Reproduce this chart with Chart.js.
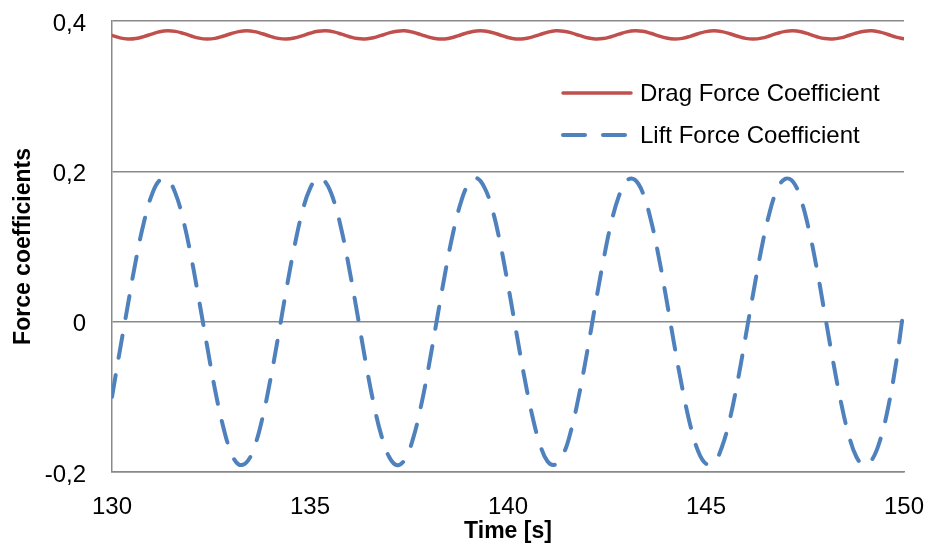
<!DOCTYPE html>
<html>
<head>
<meta charset="utf-8">
<script src="https://cdn.jsdelivr.net/npm/chart.js@4.4.1/dist/chart.umd.min.js"></script>
<style>
    html, body { margin: 0; padding: 0; background: #fff; }
    #wrap { width: 928px; height: 545px; position: relative; }
</style>
</head>
<body>
<div id="wrap"><canvas id="force-chart"></canvas></div>
<script>
// Time samples [s]
const times = [
    130.0, 130.2, 130.4, 130.6, 130.8, 131.0, 131.2, 131.4, 131.6, 131.8,
    132.0, 132.2, 132.4, 132.6, 132.8, 133.0, 133.2, 133.4, 133.6, 133.8,
    134.0, 134.2, 134.4, 134.6, 134.8, 135.0, 135.2, 135.4, 135.6, 135.8,
    136.0, 136.2, 136.4, 136.6, 136.8, 137.0, 137.2, 137.4, 137.6, 137.8,
    138.0, 138.2, 138.4, 138.6, 138.8, 139.0, 139.2, 139.4, 139.6, 139.8,
    140.0, 140.2, 140.4, 140.6, 140.8, 141.0, 141.2, 141.4, 141.6, 141.8,
    142.0, 142.2, 142.4, 142.6, 142.8, 143.0, 143.2, 143.4, 143.6, 143.8,
    144.0, 144.2, 144.4, 144.6, 144.8, 145.0, 145.2, 145.4, 145.6, 145.8,
    146.0, 146.2, 146.4, 146.6, 146.8, 147.0, 147.2, 147.4, 147.6, 147.8,
    148.0, 148.2, 148.4, 148.6, 148.8, 149.0, 149.2, 149.4, 149.6, 149.8,
    150.0
];

const dragCoef = [
    0.3807, 0.3776, 0.3761, 0.3767, 0.3792, 0.3826, 0.3856, 0.3870, 0.3862, 0.3836,
    0.3801, 0.3772, 0.3760, 0.3769, 0.3797, 0.3831, 0.3859, 0.3870, 0.3859, 0.3830,
    0.3796, 0.3769, 0.3760, 0.3773, 0.3802, 0.3837, 0.3863, 0.3870, 0.3855, 0.3825,
    0.3791, 0.3766, 0.3761, 0.3777, 0.3808, 0.3842, 0.3865, 0.3869, 0.3851, 0.3819,
    0.3786, 0.3764, 0.3762, 0.3781, 0.3814, 0.3847, 0.3867, 0.3867, 0.3847, 0.3814,
    0.3781, 0.3762, 0.3764, 0.3786, 0.3819, 0.3851, 0.3869, 0.3865, 0.3842, 0.3808,
    0.3777, 0.3761, 0.3766, 0.3791, 0.3825, 0.3855, 0.3870, 0.3863, 0.3837, 0.3802,
    0.3773, 0.3760, 0.3769, 0.3796, 0.3831, 0.3859, 0.3870, 0.3859, 0.3831, 0.3797,
    0.3769, 0.3760, 0.3772, 0.3801, 0.3836, 0.3862, 0.3870, 0.3856, 0.3826, 0.3791,
    0.3766, 0.3761, 0.3776, 0.3807, 0.3841, 0.3865, 0.3869, 0.3852, 0.3820, 0.3786,
    0.3764
];

const liftCoef = [
    -0.100, -0.038, 0.022, 0.081, 0.131, 0.168, 0.188, 0.189, 0.171, 0.135,
    0.086, 0.028, -0.032, -0.090, -0.138, -0.173, -0.190, -0.187, -0.166, -0.128,
    -0.077, -0.019, 0.042, 0.098, 0.145, 0.177, 0.191, 0.185, 0.161, 0.121,
    0.068, 0.009, -0.052, -0.107, -0.151, -0.180, -0.191, -0.183, -0.156, -0.113,
    -0.059, 0.001, 0.061, 0.115, 0.157, 0.183, 0.191, 0.179, 0.150, 0.105,
    0.049, -0.011, -0.070, -0.122, -0.162, -0.186, -0.190, -0.176, -0.143, -0.096,
    -0.040, 0.021, 0.079, 0.130, 0.167, 0.188, 0.189, 0.172, 0.137, 0.088,
    0.030, -0.031, -0.088, -0.137, -0.172, -0.189, -0.188, -0.167, -0.130, -0.079,
    -0.020, 0.040, 0.097, 0.144, 0.176, 0.190, 0.186, 0.162, 0.122, 0.070,
    0.010, -0.050, -0.105, -0.150, -0.180, -0.191, -0.183, -0.157, -0.114, -0.055,
    0.020
];

const xTicks = [130, 135, 140, 145, 150];
const yTicks = [-0.2, 0, 0.2, 0.4];

const FONT = "'Liberation Sans', Arial, sans-serif";
const GRID = '#898989';

// Legend drawn inside the plot area, like the Excel original
const insideLegend = {
    id: 'insideLegend',
    afterDraw(chart) {
        const ctx = chart.ctx;
        const area = chart.chartArea;
        const x0 = area.right - 341;
        chart.data.datasets.forEach(function(ds, i) {
            const y = area.top + 72 + i * 42;
            ctx.save();
            ctx.strokeStyle = ds.borderColor;
            ctx.lineWidth = ds.borderWidth;
            ctx.lineCap = ds.borderCapStyle || 'butt';
            ctx.setLineDash(ds.borderDash || []);
            ctx.beginPath();
            ctx.moveTo(x0, y);
            ctx.lineTo(x0 + 68, y);
            ctx.stroke();
            ctx.setLineDash([]);
            ctx.fillStyle = '#000';
            ctx.font = '24px ' + FONT;
            ctx.textBaseline = 'middle';
            ctx.textAlign = 'left';
            ctx.fillText(ds.label, x0 + 77, y + 1);
            ctx.restore();
        });
    }
};

function fmtComma(v) {
    if (Math.abs(v) < 1e-9) return '0';
    return v.toFixed(1).replace('.', ',');
}

// fixed axis boxes so the plot area lands where the original has it
function fixX(s) {
    s.height = 73;
    s.paddingLeft = 0;
    s.paddingRight = 0;
}
function fixY(s) {
    s.width = 112;
    s.paddingTop = 0;
    s.paddingBottom = 0;
}

const ctx = document.getElementById('force-chart').getContext('2d');
new Chart(ctx, {
    type: 'line',
    data: {
        datasets: [{
            label: 'Drag Force Coefficient',
            data: times.map((t, i) => ({ x: t, y: dragCoef[i] })),
            borderColor: '#C0504D',
            borderWidth: 3.5,
            borderCapStyle: 'round',
            pointRadius: 0,
            tension: 0.4,
            fill: false
        }, {
            label: 'Lift Force Coefficient',
            data: times.map((t, i) => ({ x: t, y: liftCoef[i] })),
            borderColor: '#4F81BD',
            borderWidth: 4,
            borderDash: [22, 18],
            borderCapStyle: 'round',
            pointRadius: 0,
            tension: 0.4,
            fill: false
        }]
    },
    options: {
        responsive: true,
        maintainAspectRatio: false,
        animation: false,
        events: [],
        layout: { padding: { left: 0, right: 24, top: 21, bottom: 0 } },
        plugins: {
            legend: { display: false },
            tooltip: { enabled: false }
        },
        scales: {
            x: {
                type: 'linear',
                min: 130,
                max: 150,
                afterBuildTicks: s => { s.ticks = xTicks.map(v => ({ value: v })); },
                afterFit: fixX,
                grid: { display: false, drawTicks: false },
                border: { display: true, color: GRID, width: 1.5 },
                ticks: {
                    padding: 21,
                    color: '#000',
                    font: { family: FONT, size: 24 },
                    maxRotation: 0
                },
                title: {
                    display: true,
                    text: 'Time [s]',
                    color: '#000',
                    font: { family: FONT, size: 23, weight: 'bold' },
                    padding: { top: 0, bottom: 0 }
                }
            },
            y: {
                min: -0.2,
                max: 0.4,
                afterBuildTicks: s => { s.ticks = yTicks.map(v => ({ value: v })); },
                afterFit: fixY,
                grid: { color: GRID, lineWidth: 1.5, drawTicks: false },
                border: { display: true, color: GRID, width: 1.5 },
                ticks: {
                    padding: 26,
                    labelOffset: 3,
                    color: '#000',
                    font: { family: FONT, size: 24 },
                    callback: v => fmtComma(v)
                },
                title: {
                    display: true,
                    text: 'Force coefficients',
                    color: '#000',
                    font: { family: FONT, size: 23, weight: 'bold' },
                    padding: { top: 10, bottom: 0 }
                }
            }
        }
    },
    plugins: [insideLegend]
});
</script>
</body>
</html>
